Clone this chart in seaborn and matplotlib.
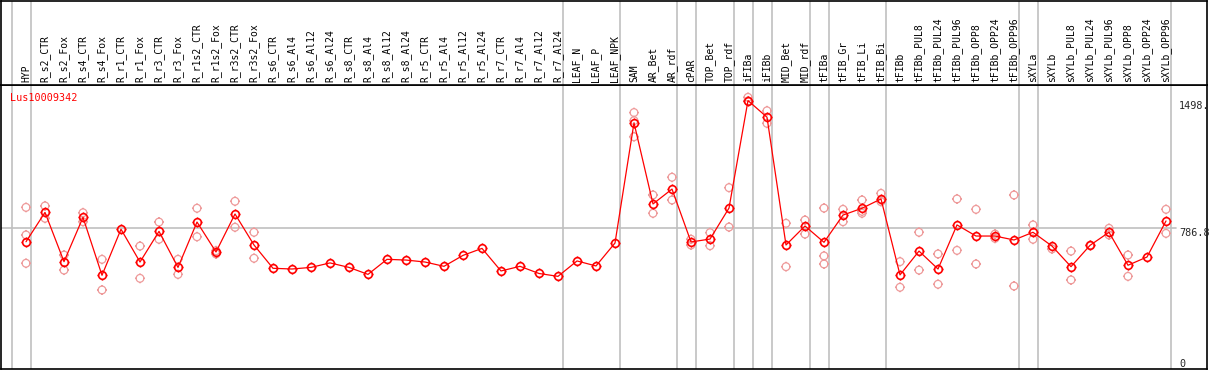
import numpy as np
import pandas as pd
import matplotlib
matplotlib.use("Agg")
import matplotlib.pyplot as plt
from matplotlib.path import Path
import seaborn as sns

# sample names (x axis, in drawing order)
samples = ["HYP", "R_s2_CTR", "R_s2_Fox", "R_s4_CTR", "R_s4_Fox", "R_r1_CTR", "R_r1_Fox",
           "R_r3_CTR", "R_r3_Fox", "R_r1s2_CTR", "R_r1s2_Fox", "R_r3s2_CTR", "R_r3s2_Fox",
           "R_s6_CTR", "R_s6_Al4", "R_s6_Al12", "R_s6_Al24", "R_s8_CTR", "R_s8_Al4",
           "R_s8_Al12", "R_s8_Al24", "R_r5_CTR", "R_r5_Al4", "R_r5_Al12", "R_r5_Al24",
           "R_r7_CTR", "R_r7_Al4", "R_r7_Al12", "R_r7_Al24", "LEAF_N", "LEAF_P", "LEAF_NPK",
           "SAM", "AR_Bet", "AR_rdf", "cPAR", "TOP_Bet", "TOP_rdf", "iFIBa", "iFIBb",
           "MID_Bet", "MID_rdf", "tFIBa", "tFIB_Gr", "tFIB_Li", "tFIB_Bi", "tFIBb",
           "tFIBb_PUL8", "tFIBb_PUL24", "tFIBb_PUL96", "tFIBb_OPP8", "tFIBb_OPP24",
           "tFIBb_OPP96", "sXYLa", "sXYLb", "sXYLb_PUL8", "sXYLb_PUL24", "sXYLb_PUL96",
           "sXYLb_OPP8", "sXYLb_OPP24", "sXYLb_OPP96"]

# mean expression per sample
mean_expr = [710, 874, 599, 846, 523, 780, 597, 768, 567, 820, 653, 865, 692,
             562, 558, 567, 592, 567, 528, 612, 608, 597, 573, 634, 673,
             547, 573, 533, 517, 603, 575, 703,
             1374, 921, 1004, 709, 725, 898, 1498, 1405, 692, 798,
             707, 859, 897, 949, 525, 658, 558, 804, 742, 742, 720,
             763, 686, 571, 690, 763, 579, 625, 826]

# individual replicates (as visible)
replicates = [[902, 748, 590], [910, 841], [636, 552], [872, 822], [612, 441], [],
              [686, 506], [820, 724], [612, 528], [897, 738], [642, 660], [936, 791],
              [763, 618], [], [], [], [], [], [], [], [], [], [], [], [], [], [], [], [],
              [], [], [], [1431, 1386, 1296], [971, 869], [1070, 943], [724, 692],
              [761, 688], [1012, 792], [1516, 1496], [1441, 1371], [813, 571], [831, 753],
              [898, 631, 586], [891, 822], [943, 869, 880], [980, 934], [599, 456],
              [763, 552], [642, 473], [949, 662], [891, 586], [753, 729], [971, 463],
              [804, 724], [670], [658, 497], [690], [785, 748], [636, 517], [], [891, 757]]

# group separators drawn after these sample indices
group_ends = [-1, 0, 28, 31, 34, 35, 37, 38, 39, 41, 42, 45, 52, 53, 60]

gene = "Lus10009342"
y_ticks = [1498, 786.8, 0]
y_tick_labels = ["1498.", "786.8", "0"]

mean_df = pd.DataFrame({"pos": np.arange(len(samples)), "value": mean_expr})
rep_df = pd.DataFrame([(i, v) for i, reps in enumerate(replicates) for v in reps],
                      columns=["pos", "value"])

sns.set_style("white")
plt.rcParams["font.family"] = ["DejaVu Sans Mono"]

# circle marker with small ticks (polygon circle + 4 tick segments)
ang = np.linspace(0, 2 * np.pi, 33)
verts = [(np.cos(a), np.sin(a)) for a in ang]
codes = [Path.MOVETO] + [Path.LINETO] * 32
for dx, dy in [(0, 1), (0, -1), (1, 0), (-1, 0)]:
    verts += [(dx, dy), (1.3 * dx, 1.3 * dy)]
    codes += [Path.MOVETO, Path.LINETO]
marker = Path(verts, codes)

W, H = 1209, 370
fig = plt.figure(figsize=(W / 100, H / 100), dpi=100)

x_lo = (1 - 26) / 19
x_hi = (1207 - 26) / 19
px = 0.1792  # pixels per unit

ax = fig.add_axes([1 / W, 1 / H, 1206 / W, 284 / H])
hd = fig.add_axes([1 / W, 285 / H, 1206 / W, 84.5 / H])

for a in (ax, hd):
    a.set_xlim(x_lo, x_hi)
    for g in group_ends:
        a.axvline(g + 0.24, color="#c0c0c0", lw=1.2, zorder=0)
    a.set_xticks([])
    a.set_yticks([])
    for s in a.spines.values():
        s.set_color("black")
        s.set_linewidth(1.2)

hd.set_ylim(0, 1)
for i, name in enumerate(samples):
    hd.text(i, 0.03, name, rotation=90, ha="center", va="bottom", fontsize=7, color="black")

ax.set_ylim(0, 284 / px)
ax.axhline(786.8, xmin=0, xmax=(1176 - 1) / 1206, color="#c0c0c0", lw=1.2, zorder=0)

sns.scatterplot(data=rep_df, x="pos", y="value", ax=ax, marker=marker, s=52,
                facecolor="none", edgecolor="#ee9a9a", linewidth=0.9, zorder=2)
sns.lineplot(data=mean_df, x="pos", y="value", ax=ax, color="red", lw=0.9,
             marker=marker, markersize=7.2, markerfacecolor="none",
             markeredgecolor="red", markeredgewidth=1.2, zorder=3)
ax.set_xlabel("")
ax.set_ylabel("")

ax.text(9 / 1206, 1 - 13 / 284, gene, transform=ax.transAxes, color="red",
        fontsize=7.3, ha="left", va="center")
for v, lab in zip(y_ticks, y_tick_labels):
    ax.text(1178 / 1206, v, lab, transform=ax.get_yaxis_transform(),
            fontsize=7.3, ha="left", va="top" if v > 0 else "bottom")

fig.savefig("out.png", dpi=100)
